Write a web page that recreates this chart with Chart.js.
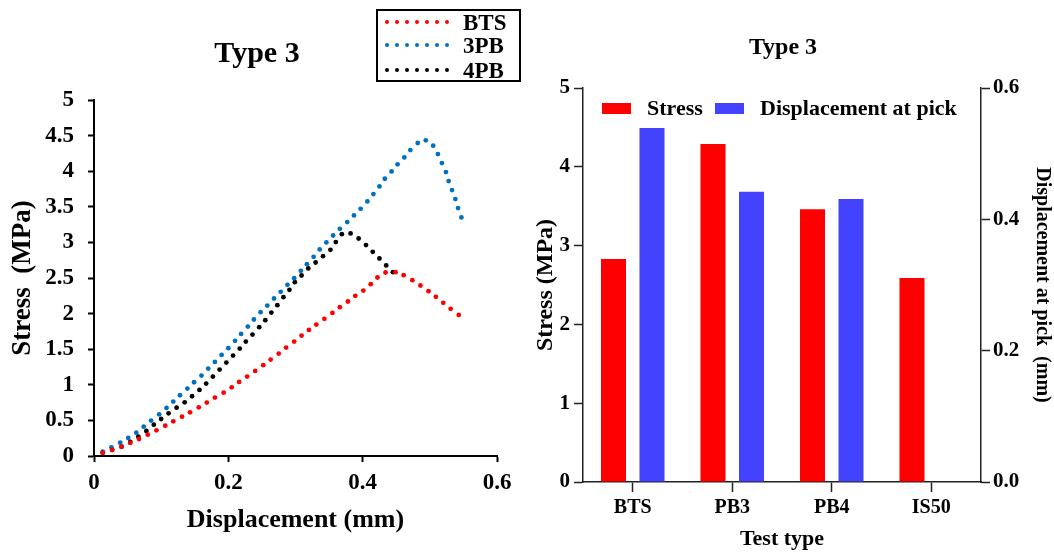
<!DOCTYPE html>
<html>
<head>
<meta charset="utf-8">
<script src="https://cdn.jsdelivr.net/npm/chart.js@4.4.0/dist/chart.umd.min.js"></script>
<style>
  body { margin: 0; background: #fff; }
  #quadro { position: relative; width: 1054px; height: 553px; overflow: hidden; font-family: "Liberation Serif", "Times New Roman", serif; font-weight: bold; color: #000; }
  canvas { position: absolute; top: 0; }
  .txt { position: absolute; line-height: 1; white-space: nowrap; }
  #legenda1 { position: absolute; left: 376px; top: 9px; width: 141px; height: 69px; border: 2px solid #000; }
  .ponto { position: absolute; width: 4px; height: 4px; border-radius: 50%; }
  .quad { position: absolute; height: 11px; width: 29px; }
</style>
</head>
<body>
<div id="quadro">
  <canvas id="graficoLinhas" width="530" height="553" style="left:0"></canvas>
  <canvas id="graficoBarras" width="524" height="553" style="left:530px"></canvas>

  <div class="txt" style="left:257px; top:37px; font-size:30px; transform:translateX(-50%)">Type 3</div>
  <div class="txt" style="left:783px; top:34px; font-size:24px; transform:translateX(-50%)">Type 3</div>

  <div id="legenda1"></div>

  <div class="quad" style="left:602px; top:103px; background:#FF0000"></div>
  <div class="txt" style="left:647px; top:97px; font-size:22px">Stress</div>
  <div class="quad" style="left:715px; top:103px; background:#4343FF"></div>
  <div class="txt" style="left:760px; top:97px; font-size:22px">Displacement at pick</div>
</div>

<script>
// curvas tensao x deslocamento
var btsX = [0.013, 0.027, 0.041, 0.054, 0.067, 0.080, 0.093, 0.106, 0.118, 0.131, 0.143, 0.156, 0.168, 0.180, 0.193, 0.205, 0.216, 0.228, 0.240, 0.252, 0.263, 0.275, 0.286, 0.298, 0.309, 0.320, 0.331, 0.343, 0.355, 0.366, 0.378, 0.389, 0.401, 0.412, 0.422, 0.434, 0.449, 0.461, 0.474, 0.486, 0.498, 0.509, 0.520, 0.531, 0.543]
var btsY = [0.047, 0.084, 0.131, 0.183, 0.239, 0.300, 0.361, 0.426, 0.487, 0.553, 0.614, 0.684, 0.750, 0.820, 0.890, 0.965, 1.040, 1.115, 1.195, 1.275, 1.354, 1.439, 1.523, 1.607, 1.692, 1.771, 1.846, 1.926, 2.010, 2.090, 2.170, 2.249, 2.324, 2.413, 2.507, 2.577, 2.582, 2.540, 2.470, 2.395, 2.315, 2.235, 2.151, 2.067, 1.982]

var pb3X = [0.013, 0.026, 0.039, 0.051, 0.063, 0.074, 0.085, 0.097, 0.108, 0.118, 0.128, 0.139, 0.149, 0.160, 0.170, 0.180, 0.190, 0.200, 0.210, 0.219, 0.229, 0.238, 0.248, 0.258, 0.268, 0.278, 0.288, 0.298, 0.308, 0.317, 0.327, 0.336, 0.346, 0.356, 0.366, 0.377, 0.387, 0.397, 0.407, 0.416, 0.425, 0.433, 0.443, 0.452, 0.462, 0.471, 0.482, 0.494, 0.505, 0.512, 0.518, 0.524, 0.528, 0.533, 0.538, 0.542, 0.547]
var pb3Y = [0.061, 0.122, 0.187, 0.253, 0.328, 0.412, 0.497, 0.586, 0.675, 0.764, 0.853, 0.947, 1.036, 1.129, 1.228, 1.321, 1.420, 1.514, 1.617, 1.715, 1.818, 1.917, 2.020, 2.113, 2.212, 2.306, 2.404, 2.498, 2.601, 2.694, 2.798, 2.901, 2.999, 3.097, 3.191, 3.285, 3.379, 3.472, 3.575, 3.679, 3.786, 3.894, 3.997, 4.096, 4.194, 4.297, 4.396, 4.433, 4.358, 4.241, 4.114, 3.988, 3.861, 3.735, 3.608, 3.482, 3.351]

var pb4X = [0.013, 0.027, 0.041, 0.054, 0.066, 0.078, 0.089, 0.100, 0.111, 0.123, 0.135, 0.146, 0.157, 0.167, 0.177, 0.187, 0.197, 0.207, 0.217, 0.226, 0.236, 0.246, 0.255, 0.264, 0.273, 0.282, 0.291, 0.299, 0.309, 0.319, 0.330, 0.341, 0.352, 0.360, 0.369, 0.382, 0.394, 0.405, 0.415, 0.425, 0.435, 0.445]
var pb4Y = [0.047, 0.089, 0.131, 0.197, 0.272, 0.351, 0.440, 0.520, 0.600, 0.679, 0.754, 0.839, 0.928, 1.017, 1.115, 1.214, 1.312, 1.411, 1.509, 1.607, 1.706, 1.809, 1.907, 2.015, 2.118, 2.231, 2.334, 2.441, 2.535, 2.634, 2.718, 2.807, 2.896, 3.004, 3.116, 3.126, 3.055, 2.962, 2.868, 2.774, 2.676, 2.582]

// barras
var tiposEnsaio = ['BTS', 'PB3', 'PB4', 'IS50']
var tensaoPico = [2.83, 4.29, 3.46, 2.59]
var deslocPico = [0.539, 0.442, 0.431, null]

var nomesCurvas = ['BTS', '3PB', '4PB']
var coresCurvas = ['#FF0000', '#0070C0', '#000000']

const fonte = "'Liberation Serif', 'Times New Roman', serif"
function f(size) { return { family: fonte, size: size, weight: 'bold' } }
function pares(xs, ys) { return xs.map((x, i) => ({ x: x, y: ys[i] })) }

// legenda do grafico da esquerda
var leg = document.getElementById('legenda1')
var linhasY = [11, 34, 59]
for (var i = 0; i < nomesCurvas.length; i++) {
    for (var k = 0; k < 7; k++) {
        var p = document.createElement('div')
        p.className = 'ponto'
        p.style.left = (9 + k * 10 - 2) + 'px'
        p.style.top = (linhasY[i] - 2) + 'px'
        p.style.background = coresCurvas[i]
        leg.appendChild(p)
    }
    var t = document.createElement('div')
    t.className = 'txt'
    t.style.left = '85px'
    t.style.top = (linhasY[i] - 11) + 'px'
    t.style.fontSize = '23px'
    t.innerText = nomesCurvas[i]
    leg.appendChild(t)
}

new Chart(document.getElementById('graficoLinhas'), {
    type: 'scatter',
    data: {
        datasets: [
            { label: nomesCurvas[0], data: pares(btsX, btsY), backgroundColor: coresCurvas[0], pointRadius: 2.4, borderWidth: 0 },
            { label: nomesCurvas[1], data: pares(pb3X, pb3Y), backgroundColor: coresCurvas[1], pointRadius: 2.4, borderWidth: 0 },
            { label: nomesCurvas[2], data: pares(pb4X, pb4Y), backgroundColor: coresCurvas[2], pointRadius: 2.4, borderWidth: 0 },
        ],
    },
    options: {
        responsive: false,
        animation: false,
        devicePixelRatio: 1,
        layout: { padding: { top: 100, right: 33, left: 0, bottom: 0 } },
        plugins: { legend: { display: false }, tooltip: { enabled: false } },
        scales: {
            x: {
                type: 'linear', min: 0, max: 0.6,
                afterFit: function (s) { s.height = 97 },
                ticks: { stepSize: 0.2, padding: 7, color: '#000', font: f(23), callback: v => +v.toFixed(1) },
                grid: { drawOnChartArea: false, tickLength: 6, tickColor: '#000', tickWidth: 2 },
                border: { color: '#000', width: 2 },
                title: { display: true, text: 'Displacement (mm)', color: '#000', font: f(26), padding: { top: 0, bottom: 17 } },
            },
            y: {
                min: 0, max: 5,
                afterFit: function (s) { s.width = 94 },
                ticks: { stepSize: 0.5, padding: 14, autoSkip: false, color: '#000', font: f(23), callback: v => +v.toFixed(1) },
                grid: { drawOnChartArea: false, tickLength: 6, tickColor: '#000', tickWidth: 2 },
                border: { color: '#000', width: 2 },
                title: { display: true, text: 'Stress  (MPa)', color: '#000', font: f(27), padding: { top: 7, bottom: 0 } },
            },
        },
    },
})

new Chart(document.getElementById('graficoBarras'), {
    type: 'bar',
    data: {
        labels: tiposEnsaio,
        datasets: [
            { label: 'Stress', data: tensaoPico, backgroundColor: '#FF0000', yAxisID: 'y', barPercentage: 0.65, categoryPercentage: 0.774 },
            { label: 'Displacement at pick', data: deslocPico, backgroundColor: '#4343FF', yAxisID: 'y1', barPercentage: 0.65, categoryPercentage: 0.774 },
        ],
    },
    options: {
        responsive: false,
        animation: false,
        devicePixelRatio: 1,
        layout: { padding: { top: 88, right: 0, left: 0, bottom: 0 } },
        plugins: { legend: { display: false }, tooltip: { enabled: false } },
        scales: {
            x: {
                afterFit: function (s) { s.height = 71 },
                ticks: { padding: 4, color: '#000', font: f(20) },
                grid: { offset: false, drawOnChartArea: false, tickLength: 10, tickColor: '#222', tickWidth: 1.5 },
                border: { color: '#222', width: 1.5 },
                title: { display: true, text: 'Test type', color: '#000', font: f(22), padding: { top: 0, bottom: 0 } },
            },
            y: {
                position: 'left', min: 0, max: 5,
                afterFit: function (s) { s.width = 53 },
                ticks: { stepSize: 1, padding: 4, color: '#000', font: f(21) },
                grid: { drawOnChartArea: false, tickLength: 9, tickColor: '#222', tickWidth: 1.5 },
                border: { color: '#222', width: 1.5 },
                title: { display: true, text: 'Stress (MPa)', color: '#000', font: f(24), padding: { top: 1, bottom: 0 } },
            },
            y1: {
                position: 'right', min: 0, max: 0.6,
                afterFit: function (s) { s.width = 73 },
                ticks: { stepSize: 0.2, padding: 3, color: '#000', font: f(21), callback: v => v.toFixed(1) },
                grid: { drawOnChartArea: false, tickLength: 9, tickColor: '#222', tickWidth: 1.5 },
                border: { color: '#222', width: 1.5 },
                title: { display: true, text: 'Displacement at pick  (mm)', color: '#000', font: f(20), padding: { top: 0, bottom: 0 } },
            },
        },
    },
})
</script>
</body>
</html>
